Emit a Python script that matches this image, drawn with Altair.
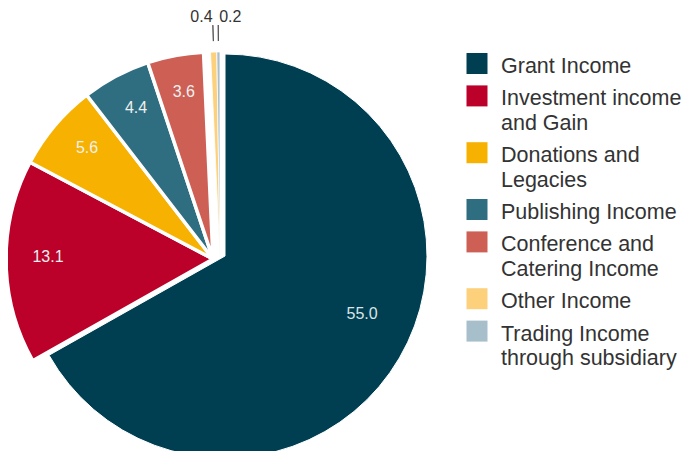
import math
import altair as alt
import pandas as pd

categories = [
    "Grant Income",
    "Investment income and Gain",
    "Donations and Legacies",
    "Publishing Income",
    "Conference and Catering Income",
    "Other Income",
    "Trading Income through subsidiary",
]
values = [55.0, 13.1, 5.6, 4.4, 3.6, 0.4, 0.2]
colors = ["#003f52", "#bb0029", "#f7b100", "#2e6e80", "#cd5f55", "#fdd17c", "#a7bfcb"]
legend_lines = [
    ["Grant Income"],
    ["Investment income", "and Gain"],
    ["Donations and", "Legacies"],
    ["Publishing Income"],
    ["Conference and", "Catering Income"],
    ["Other Income"],
    ["Trading Income", "through subsidiary"],
]

total = sum(values)
df = pd.DataFrame({"cat": categories, "value": values, "idx": list(range(len(values)))})
df["end"] = df["value"].cumsum()
df["start"] = df["end"] - df["value"]
df["mid"] = (df["start"] + df["end"]) / 2
df["mid2"] = df["mid"] + total * 2e-5
df["label"] = df["value"].map(lambda v: f"{v:.1f}")

rows = []
g = 0
for i, lines in enumerate(legend_lines):
    for j, ln in enumerate(lines):
        rows.append({"cat": categories[i], "line": ln, "first": j == 0,
                     "ly": 59 + g * 24.4 + i * 8})
        g += 1
leg = pd.DataFrame(rows)
leg["sy"] = leg["ly"] - 3.5

theta_scale = alt.Scale(domain=[0, total], range=[0, 2 * math.pi])
color = alt.Color("cat:N", scale=alt.Scale(domain=categories, range=colors), legend=None)

base = alt.Chart(df)

GX, GY = 217, 248   # grant slice centre
OX, OY = 205, 251   # other slices centre
SX = 212            # tiny slices centre x

grant = base.transform_filter(alt.datum.idx == 0).mark_arc(
    outerRadius=202, stroke="white", strokeWidth=1
).encode(
    theta=alt.Theta("start:Q", scale=theta_scale), theta2="end:Q",
    color=color, x=alt.value(GX), y=alt.value(GY)
)

others = base.transform_filter((alt.datum.idx > 0) & (alt.datum.value >= 1)).mark_arc(
    outerRadius=207, stroke="white", strokeWidth=3.5
).encode(
    theta=alt.Theta("start:Q", scale=theta_scale), theta2="end:Q",
    color=color, x=alt.value(OX), y=alt.value(OY)
)

small = base.transform_filter(alt.datum.value < 1).mark_arc(
    outerRadius=207, stroke="white", strokeWidth=0.8
).encode(
    theta=alt.Theta("start:Q", scale=theta_scale), theta2="end:Q",
    color=color, x=alt.value(SX), y=alt.value(OY)
)

leaders = base.transform_filter(alt.datum.value < 1).mark_arc(
    innerRadius=218, outerRadius=234, stroke="#444", strokeWidth=0.8, fillOpacity=0
).encode(
    theta=alt.Theta("mid:Q", scale=theta_scale), theta2="mid2:Q",
    x=alt.value(SX), y=alt.value(OY)
)

txt_font = dict(font="Liberation Sans", fontSize=16)

grant_lbl = base.transform_filter(alt.datum.idx == 0).mark_text(
    color="#dbe4e8", thetaOffset=-0.127, **txt_font
).encode(
    theta=alt.Theta("mid:Q", scale=theta_scale), radius=alt.value(149),
    text="label:N", x=alt.value(GX), y=alt.value(GY)
)

other_lbl = base.transform_filter((alt.datum.idx > 0) & (alt.datum.value >= 1)).mark_text(
    color="#eef0f0", **txt_font
).encode(
    theta=alt.Theta("mid:Q", scale=theta_scale), radius=alt.value(166),
    text="label:N", x=alt.value(OX + 1), y=alt.value(OY - 4)
)

top_lbl_a = base.transform_filter(alt.datum.idx == 5).mark_text(
    color="#333333", align="right", dx=0, **txt_font
).encode(
    theta=alt.Theta("mid:Q", scale=theta_scale), radius=alt.value(242),
    text="label:N", x=alt.value(SX), y=alt.value(OY)
)
top_lbl_b = base.transform_filter(alt.datum.idx == 6).mark_text(
    color="#333333", align="left", dx=1, **txt_font
).encode(
    theta=alt.Theta("mid:Q", scale=theta_scale), radius=alt.value(242),
    text="label:N", x=alt.value(SX), y=alt.value(OY)
)

lbase = alt.Chart(leg)
leg_sq = lbase.transform_filter(alt.datum.first).mark_square(
    size=441, opacity=1, filled=True
).encode(
    x=alt.value(469), y=alt.Y("sy:Q", scale=None, axis=None), color=color
)
leg_txt = lbase.mark_text(
    align="left", baseline="middle", font="Liberation Sans", fontSize=21.5, color="#333333"
).encode(
    x=alt.value(493), y=alt.Y("ly:Q", scale=None, axis=None), text="line:N"
)

chart = alt.layer(
    grant, others, small, leaders, grant_lbl, other_lbl, top_lbl_a, top_lbl_b, leg_sq, leg_txt
).properties(
    width=673, height=443, padding=0, autosize=alt.AutoSizeParams(type="none"),
    background="white"
).configure_view(stroke=None)

chart.save("out.html", embed_options={"renderer": "svg", "actions": False})
